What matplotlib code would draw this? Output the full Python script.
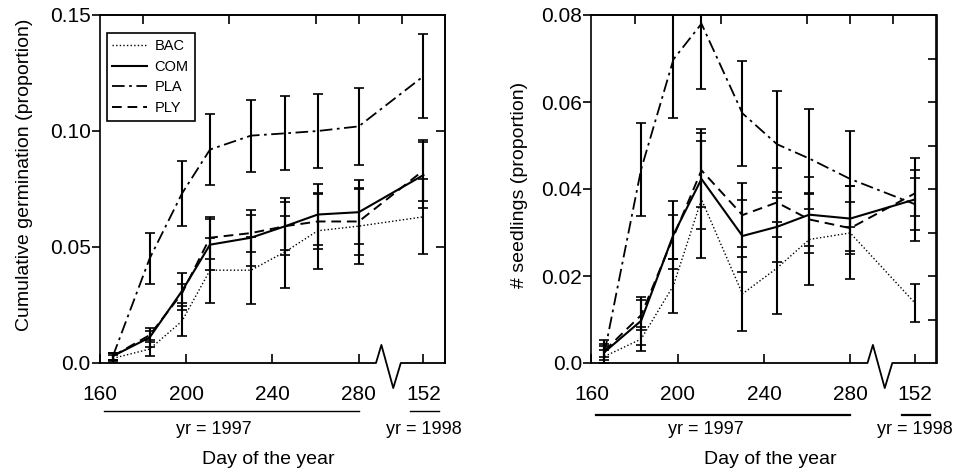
import matplotlib
matplotlib.use("Agg")
import matplotlib.pyplot as plt
import numpy as np

plt.rcParams['font.family'] = ['Liberation Sans', 'DejaVu Sans']

# ---------------- data ----------------
days = [166, 183, 198, 211, 230, 246, 261, 280, 152]
years = [1997, 1997, 1997, 1997, 1997, 1997, 1997, 1997, 1998]
treatments = ['BAC', 'COM', 'PLA', 'PLY']

germ_BAC = [0.002, 0.006, 0.018, 0.040, 0.040, 0.048, 0.057, 0.059, 0.063]
germ_BAC_err = [0.0015, 0.003, 0.0065, 0.014, 0.0145, 0.0155, 0.0163, 0.0162, 0.0162]
germ_COM = [0.003, 0.011, 0.031, 0.051, 0.054, 0.059, 0.064, 0.065, 0.081]
germ_COM_err = [0.0015, 0.004, 0.008, 0.011, 0.012, 0.0123, 0.0133, 0.0137, 0.0143]
germ_PLA = [0.003, 0.045, 0.073, 0.092, 0.098, 0.099, 0.100, 0.102, 0.1236]
germ_PLA_err = [0.0015, 0.011, 0.014, 0.0153, 0.0155, 0.016, 0.016, 0.0165, 0.018]
germ_PLY = [0.003, 0.012, 0.030, 0.054, 0.056, 0.059, 0.061, 0.061, 0.083]
germ_PLY_err = [0.0015, 0.002, 0.004, 0.009, 0.008, 0.0105, 0.012, 0.0143, 0.013]

seed_BAC = [0.0015, 0.0055, 0.0178, 0.0376, 0.0159, 0.0218, 0.0284, 0.0299, 0.0138]
seed_BAC_err = [0.0015, 0.0027, 0.0062, 0.0135, 0.0085, 0.0106, 0.0105, 0.0107, 0.0044]
seed_COM = [0.0025, 0.0097, 0.0295, 0.0423, 0.0292, 0.0313, 0.0341, 0.0332, 0.0376]
seed_COM_err = [0.0028, 0.0055, 0.0078, 0.0115, 0.0082, 0.008, 0.0087, 0.0075, 0.0096]
seed_PLA = [0.0023, 0.0445, 0.0698, 0.078, 0.0574, 0.0503, 0.047, 0.0423, 0.0365]
seed_PLA_err = [0.0015, 0.0107, 0.0134, 0.015, 0.012, 0.0123, 0.0115, 0.011, 0.006]
seed_PLY = [0.0028, 0.011, 0.029, 0.0443, 0.034, 0.0369, 0.033, 0.031, 0.039]
seed_PLY_err = [0.0015, 0.0034, 0.005, 0.0085, 0.0073, 0.008, 0.006, 0.006, 0.0053]

x_tick_days = [160, 200, 240, 280]
x_tick_1998 = [152]
top_ticks = [180, 220, 260, 280, 300]

# 1998 days are drawn after a broken axis
BREAK_SHIFT = 158
def to_pos(d, y):
    return d if y == 1997 else d + BREAK_SHIFT

xpos = [to_pos(d, y) for d, y in zip(days, years)]

styles = {
    'BAC': dict(linestyle=(0, (1, 1.6)), linewidth=1.0),
    'COM': dict(linestyle='-', linewidth=1.5),
    'PLA': dict(linestyle=(0, (7, 2.5, 1.5, 2.5)), linewidth=1.3),
    'PLY': dict(linestyle=(0, (5, 3)), linewidth=1.4),
}

fig = plt.figure(figsize=(9.54, 4.74), dpi=100)
W, H = 954, 474
ax1 = fig.add_axes([100 / W, 111 / H, 345 / W, 348 / H])
ax2 = fig.add_axes([591.5 / W, 111 / H, 345 / W, 348 / H])

panels = [
    (ax1, [germ_BAC, germ_COM, germ_PLA, germ_PLY],
     [germ_BAC_err, germ_COM_err, germ_PLA_err, germ_PLY_err],
     0.15, [0.0, 0.05, 0.10, 0.15], ['0.0', '0.05', '0.10', '0.15'], [0.05, 0.10], -0.138, 1.0),
    (ax2, [seed_BAC, seed_COM, seed_PLA, seed_PLY],
     [seed_BAC_err, seed_COM_err, seed_PLA_err, seed_PLY_err],
     0.08, [0.0, 0.02, 0.04, 0.06, 0.08], ['0.0', '0.02', '0.04', '0.06', '0.08'],
     [0.01, 0.02, 0.03, 0.04, 0.05, 0.06, 0.07], -0.15, 1.6),
]

for ax, vals, errs, ymax, yt, ytl, rt, uline_y, uline_w in panels:
    for name, v, e in zip(treatments, vals, errs):
        ax.errorbar(xpos, v, yerr=e, fmt='none', ecolor='black', elinewidth=1.5,
                    capsize=3.5, capthick=1.2, zorder=3)
        ax.plot(xpos, v, color='black', label=name, zorder=4, **styles[name])
    ax.set_xlim(160, 320)
    ax.set_ylim(0, ymax)
    ax.set_yticks(yt)
    ax.set_yticklabels(ytl)
    ticks = x_tick_days + [to_pos(d, 1998) for d in x_tick_1998]
    ax.set_xticks(ticks)
    ax.set_xticklabels([str(d) for d in x_tick_days] + [str(d) for d in x_tick_1998])
    ax.tick_params(axis='x', direction='in', length=6.5, width=1.2, labelsize=15, pad=16)
    ax.tick_params(axis='y', direction='out', length=5.8, width=1.2, labelsize=15, pad=0.8)
    for s in ['left', 'top', 'right']:
        ax.spines[s].set_linewidth(1.2)
    ax.spines['bottom'].set_visible(False)

    # broken bottom axis with zigzag
    tr = ax.get_xaxis_transform()
    ax.plot([160, 288, 290.5, 296, 299.5, 320], [0, 0, 0.052, -0.072, 0, 0],
            color='black', lw=1.3, transform=tr, clip_on=False, zorder=5)

    # top ticks
    sec = ax.secondary_xaxis('top')
    sec.set_xticks(top_ticks)
    sec.tick_params(direction='in', length=6.5, width=1.2, labeltop=False)
    sec.spines['top'].set_linewidth(1.2)
    # right ticks
    secy = ax.secondary_yaxis('right')
    secy.set_yticks(rt)
    secy.tick_params(direction='in', length=6.5, width=1.2, labelright=False)
    secy.spines['right'].set_linewidth(1.2)

    # year underlines and labels
    ax.plot([162, 280], [uline_y, uline_y], color='black', lw=uline_w,
            transform=tr, clip_on=False)
    ax.plot([to_pos(146, 1998), to_pos(159, 1998)], [uline_y, uline_y], color='black',
            lw=uline_w, transform=tr, clip_on=False)
    ax.text(213, -0.19, 'yr = 1997', transform=tr, ha='center', va='center', fontsize=13)
    ax.text(to_pos(152, 1998), -0.19, 'yr = 1998', transform=tr, ha='center', va='center',
            fontsize=13)

leg = ax1.legend(loc='upper left', bbox_to_anchor=(0.019, 0.947), borderaxespad=0,
                 fontsize=10.5, handlelength=2.4, handletextpad=0.5, labelspacing=0.45,
                 borderpad=0.4, fancybox=False, framealpha=1, edgecolor='black')
leg.get_frame().set_linewidth(1.2)

fig.text(25 / W, 1 - 175 / H, 'Cumulative germination (proportion)', rotation=90,
         ha='center', va='center', fontsize=14)
fig.text(520 / W, 1 - 184.5 / H, '# seedlings (proportion)', rotation=90,
         ha='center', va='center', fontsize=14)
fig.text(268 / W, 1 - 460 / H, 'Day of the year', ha='center', va='center', fontsize=14)
fig.text(770 / W, 1 - 460 / H, 'Day of the year', ha='center', va='center', fontsize=14)

fig.savefig('out.png', dpi=100)
